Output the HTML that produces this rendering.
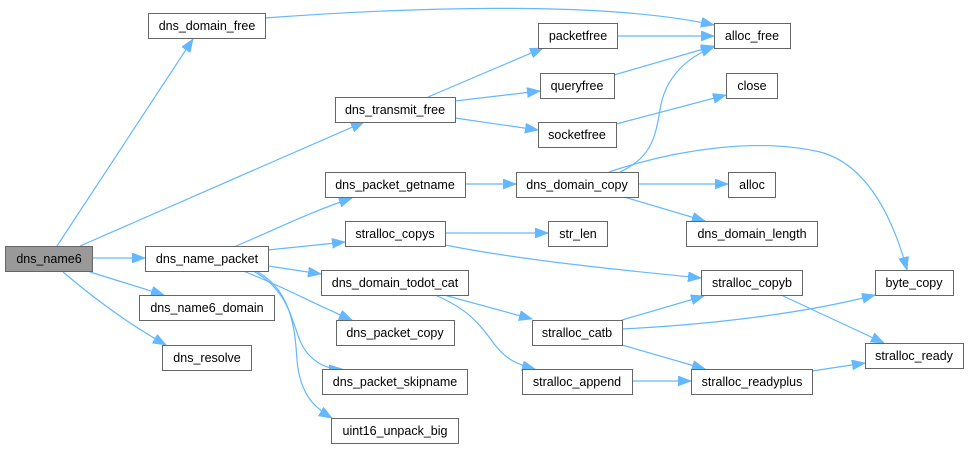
<!DOCTYPE html>
<html><head><meta charset="utf-8"><style>
body{margin:0;background:#fff}
svg text{font-family:"Liberation Sans",Arial,sans-serif;font-size:12.5px;fill:#000;text-anchor:middle;dominant-baseline:central}
</style></head><body>
<svg width="969" height="449" viewBox="0 0 969 449" xmlns="http://www.w3.org/2000/svg">
<defs><marker id="a" markerUnits="userSpaceOnUse" markerWidth="15" markerHeight="11" refX="13" refY="5" orient="auto"><path d="M0,0 L13,5 L0,10 z" fill="#63b8ff" stroke="#63b8ff" stroke-width="0.8"/></marker></defs>
<g fill="none" stroke="#63b8ff" stroke-width="1.2" marker-end="url(#a)">
<path d="M57,246 L193,39"/>
<path d="M80,246 L364,122"/>
<path d="M92,258 L145,258"/>
<path d="M90,272 L164,295"/>
<path d="M63,272 C90,295 125,322 166,345"/>
<path d="M265,18 C400,8 600,0 714,25"/>
<path d="M428,97 L543,48"/>
<path d="M455,101 L540,91"/>
<path d="M455,118 L538,130"/>
<path d="M617,36 L714,36"/>
<path d="M614,75 L714,46"/>
<path d="M616,124 L726,95"/>
<path d="M620,172 C650,158 655,140 660,110 C665,75 690,56 714,47"/>
<path d="M609,172 C680,148 760,138 820,152 C870,165 895,225 907,270"/>
<path d="M236,246 C270,232 310,212 352,198"/>
<path d="M465,184 L516,184"/>
<path d="M638,184 L728,184"/>
<path d="M624,197 L705,221"/>
<path d="M268,250 L345,242"/>
<path d="M445,233 L548,233"/>
<path d="M445,245 C520,260 620,270 701,278"/>
<path d="M268,266 L321,274"/>
<path d="M243,271 C280,285 310,302 352,320"/>
<path d="M253,271 C290,290 292,325 302,345 C310,360 325,370 342,369"/>
<path d="M256,271 C292,290 295,330 297,360 C300,395 315,408 332,418"/>
<path d="M444,295 L532,319"/>
<path d="M435,295 C470,310 480,325 495,345 C505,358 515,364 535,369"/>
<path d="M622,320 L704,296"/>
<path d="M622,329 C720,324 810,312 875,295"/>
<path d="M622,345 L705,369"/>
<path d="M632,381 L691,381"/>
<path d="M781,295 L884,343"/>
<path d="M812,371 L865,363"/>
</g>
<g stroke="#666" stroke-width="1" fill="#fff">
<rect x="5.5" y="246.5" width="87" height="25" fill="#999"/>
<rect x="148.5" y="13.5" width="117" height="25"/>
<rect x="335.5" y="97.5" width="120" height="25"/>
<rect x="325.5" y="172.5" width="140" height="25"/>
<rect x="345.5" y="221.5" width="100" height="25"/>
<rect x="145.5" y="246.5" width="123" height="25"/>
<rect x="321.5" y="270.5" width="147" height="25"/>
<rect x="139.5" y="295.5" width="135" height="25"/>
<rect x="336.5" y="320.5" width="118" height="25"/>
<rect x="162.5" y="345.5" width="89" height="25"/>
<rect x="322.5" y="369.5" width="145" height="25"/>
<rect x="331.5" y="418.5" width="127" height="25"/>
<rect x="538.5" y="23.5" width="79" height="25"/>
<rect x="714.5" y="23.5" width="76" height="25"/>
<rect x="540.5" y="73.5" width="74" height="25"/>
<rect x="726.5" y="73.5" width="51" height="25"/>
<rect x="538.5" y="122.5" width="78" height="25"/>
<rect x="516.5" y="172.5" width="122" height="25"/>
<rect x="728.5" y="172.5" width="47" height="25"/>
<rect x="548.5" y="221.5" width="59" height="25"/>
<rect x="686.5" y="221.5" width="131" height="25"/>
<rect x="701.5" y="270.5" width="101" height="25"/>
<rect x="875.5" y="270.5" width="78" height="25"/>
<rect x="532.5" y="320.5" width="90" height="25"/>
<rect x="865.5" y="343.5" width="98" height="25"/>
<rect x="522.5" y="369.5" width="110" height="25"/>
<rect x="691.5" y="369.5" width="121" height="25"/>
</g>
<text x="49" y="259">dns_name6</text>
<text x="207" y="26">dns_domain_free</text>
<text x="395" y="110">dns_transmit_free</text>
<text x="395" y="185">dns_packet_getname</text>
<text x="395" y="234">stralloc_copys</text>
<text x="207" y="259">dns_name_packet</text>
<text x="395" y="283">dns_domain_todot_cat</text>
<text x="207" y="308">dns_name6_domain</text>
<text x="395" y="333">dns_packet_copy</text>
<text x="207" y="358">dns_resolve</text>
<text x="395" y="382">dns_packet_skipname</text>
<text x="395" y="431">uint16_unpack_big</text>
<text x="578" y="36">packetfree</text>
<text x="752" y="36">alloc_free</text>
<text x="577" y="86">queryfree</text>
<text x="752" y="86">close</text>
<text x="577" y="135">socketfree</text>
<text x="577" y="185">dns_domain_copy</text>
<text x="752" y="185">alloc</text>
<text x="578" y="234">str_len</text>
<text x="752" y="234">dns_domain_length</text>
<text x="752" y="283">stralloc_copyb</text>
<text x="914" y="283">byte_copy</text>
<text x="577" y="333">stralloc_catb</text>
<text x="914" y="356">stralloc_ready</text>
<text x="577" y="382">stralloc_append</text>
<text x="752" y="382">stralloc_readyplus</text>
</svg>
</body></html>
